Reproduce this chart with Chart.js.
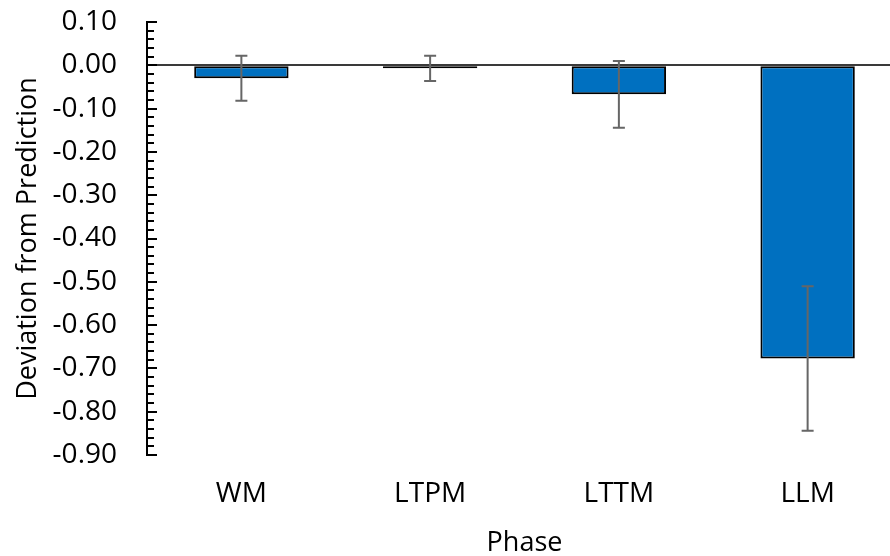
<!DOCTYPE html>
<html>
<head>
<meta charset="utf-8">
<script src="https://cdn.jsdelivr.net/npm/chart.js@4.4.0/dist/chart.umd.min.js"></script>
<style>
  html, body { margin: 0; padding: 0; background: #fff; overflow: hidden; }
  #wrap { width: 906px; height: 556px; }
</style>
</head>
<body>
<div id="wrap"><canvas id="chart"></canvas></div>
<script>
// Données
const phases = ['WM', 'LTPM', 'LTTM', 'LLM'];
const deviation = [-0.030, -0.007, -0.067, -0.677];
const errorSize = [0.052, 0.029, 0.077, 0.167];
const yMin = -0.9;
const yMax = 0.1;

const fontFamily = '"Open Sans", "Liberation Sans", sans-serif';

// Barres d'erreur (grises, avec petits chapeaux)
const errorBars = {
    id: 'errorBars',
    afterDatasetsDraw(chart) {
        const ctx = chart.ctx;
        const y = chart.scales.y;
        const meta = chart.getDatasetMeta(0);
        ctx.save();
        ctx.strokeStyle = '#666666';
        ctx.lineWidth = 2;
        meta.data.forEach((bar, i) => {
            const x = bar.x;
            const top = y.getPixelForValue(deviation[i] + errorSize[i]);
            const bottom = y.getPixelForValue(deviation[i] - errorSize[i]);
            ctx.beginPath();
            ctx.moveTo(x, top);
            ctx.lineTo(x, bottom);
            ctx.moveTo(x - 6, top);
            ctx.lineTo(x + 6, top);
            ctx.moveTo(x - 6, bottom);
            ctx.lineTo(x + 6, bottom);
            ctx.stroke();
        });
        ctx.restore();
    }
};

// Graduations intérieures de l'axe Y (majeures et mineures)
const innerTicks = {
    id: 'innerTicks',
    afterDraw(chart) {
        const ctx = chart.ctx;
        const y = chart.scales.y;
        const left = chart.chartArea.left;
        ctx.save();
        ctx.strokeStyle = '#000';
        ctx.lineWidth = 2;
        for (let k = -45; k <= 5; k++) {
            const py = Math.round(y.getPixelForValue(k / 50));
            const len = (k % 5 === 0) ? 10 : 7;
            ctx.beginPath();
            ctx.moveTo(left, py);
            ctx.lineTo(left + len, py);
            ctx.stroke();
        }
        ctx.restore();
    }
};

document.addEventListener('DOMContentLoaded', function() {
    const ctx = document.getElementById('chart').getContext('2d');
    new Chart(ctx, {
        type: 'bar',
        data: {
            labels: phases,
            datasets: [{
                data: deviation,
                backgroundColor: '#0070C0',
                borderColor: '#000',
                borderWidth: 2,
                borderSkipped: false,
                barPercentage: 0.5,
                categoryPercentage: 1.0
            }]
        },
        options: {
            responsive: true,
            maintainAspectRatio: false,
            animation: false,
            layout: { padding: { top: 22, left: 0, right: 4, bottom: 0 } },
            plugins: {
                legend: { display: false },
                tooltip: { enabled: false }
            },
            scales: {
                x: {
                    afterFit: s => { s.height = 101; },
                    grid: { display: false, drawTicks: false },
                    border: { display: false },
                    ticks: {
                        color: '#000',
                        padding: 22,
                        font: { family: fontFamily, size: 28 }
                    },
                    title: {
                        display: true,
                        text: 'Phase',
                        color: '#000',
                        padding: { top: 0, bottom: -4 },
                        font: { family: fontFamily, size: 27 }
                    }
                },
                y: {
                    min: yMin,
                    max: yMax,
                    afterFit: s => { s.width = 147; s.paddingTop = 0; s.paddingBottom = 0; },
                    grid: {
                        drawTicks: false,
                        color: c => (Math.abs(c.tick.value) < 1e-9 ? '#3a3a3a' : 'rgba(0,0,0,0)'),
                        lineWidth: 2
                    },
                    border: { display: true, color: '#000', width: 2 },
                    ticks: {
                        stepSize: 0.1,
                        color: '#000',
                        padding: 30,
                        font: { family: fontFamily, size: 28 },
                        callback: v => v.toFixed(2)
                    },
                    title: {
                        display: true,
                        text: 'Deviation from Prediction',
                        color: '#000',
                        padding: { top: 12, bottom: 0 },
                        font: { family: fontFamily, size: 27 }
                    }
                }
            }
        },
        plugins: [errorBars, innerTicks]
    });
});
</script>
</body>
</html>
